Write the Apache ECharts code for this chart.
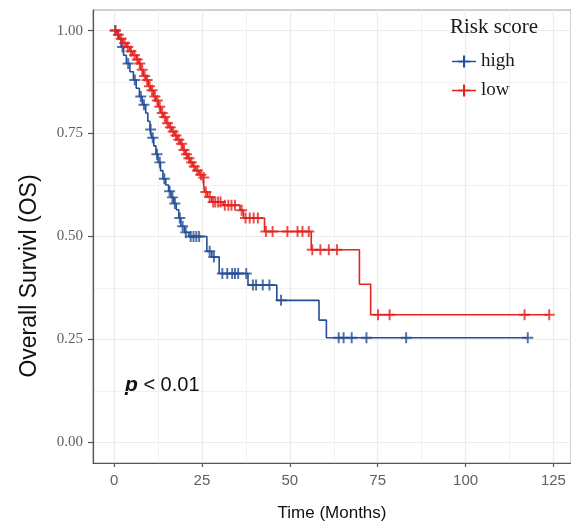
<!DOCTYPE html>
<html>
<head>
<meta charset="utf-8">
<script src="https://cdn.jsdelivr.net/npm/echarts@6/dist/echarts.min.js"></script>
<style>html,body{margin:0;padding:0;background:#fff;overflow:hidden;width:571px;height:527px;}#c{position:absolute;left:0;top:0;width:571px;height:527px;}</style>
</head>
<body>
<div id="c"></div>
<script>
// ---- data ----
const xTicks = [0, 25, 50, 75, 100, 125];
const xMinorTicks = [12.5, 37.5, 62.5, 87.5, 112.5];
const yTicks = [0, 0.25, 0.5, 0.75, 1];
const yMinorTicks = [0.125, 0.375, 0.625, 0.875];

// high risk: event times (months) and survival after each event
const highTime = [0, 1.2, 2.0, 2.7, 3.5, 4.5, 5.5, 6.3, 7.2, 8.0, 9.0, 9.6, 10.2, 10.7, 11.3, 11.9, 12.5, 13.2, 13.9, 14.7, 15.5, 16.2, 17.0, 17.7, 18.4, 19.0, 20.0, 21.3, 26.4, 27.8, 29.9, 38.1, 46.3, 58.3, 60.4];
const highSurv = [1, 0.98, 0.96, 0.94, 0.92, 0.90, 0.88, 0.86, 0.84, 0.82, 0.80, 0.78, 0.76, 0.74, 0.72, 0.70, 0.68, 0.66, 0.64, 0.625, 0.61, 0.595, 0.58, 0.565, 0.545, 0.525, 0.51, 0.50, 0.464, 0.45, 0.41, 0.382, 0.345, 0.297, 0.254];
const highCensor = [0.3, 2.4, 4.0, 5.9, 7.6, 8.5, 10.4, 11.0, 12.2, 13.0, 14.3, 15.8, 16.6, 17.3, 18.7, 19.5, 20.4, 21.8, 22.6, 23.4, 24.2, 27.2, 28.4, 30.8, 32.2, 33.6, 34.4, 35.3, 37.6, 39.5, 40.4, 42.3, 44.2, 47.5, 63.9, 65.3, 67.6, 71.8, 83.1, 117.7];

// low risk
const lowTime = [0, 0.8, 1.6, 2.5, 3.5, 4.4, 5.3, 6.3, 7.0, 7.6, 8.3, 9.1, 9.7, 10.4, 11.2, 11.9, 12.6, 13.3, 14.0, 14.8, 15.6, 16.4, 17.2, 18.0, 18.8, 19.5, 20.2, 20.9, 21.6, 22.4, 23.2, 24.2, 25.3, 25.7, 26.6, 27.8, 31.0, 35.8, 36.8, 42.8, 56.1, 69.8, 73.0];
const lowSurv = [1, 0.99, 0.98, 0.97, 0.96, 0.95, 0.94, 0.93, 0.92, 0.905, 0.89, 0.88, 0.865, 0.855, 0.84, 0.83, 0.815, 0.80, 0.79, 0.775, 0.765, 0.755, 0.745, 0.735, 0.725, 0.71, 0.70, 0.69, 0.68, 0.67, 0.66, 0.65, 0.643, 0.608, 0.596, 0.584, 0.576, 0.564, 0.545, 0.512, 0.468, 0.384, 0.31];
const lowCensor = [0.4, 1.2, 2.0, 3.0, 3.9, 4.8, 5.8, 6.6, 7.3, 8.0, 8.7, 9.4, 10.1, 10.8, 11.6, 12.3, 13.0, 13.7, 14.4, 15.2, 16.0, 16.8, 17.6, 18.4, 19.2, 19.9, 20.6, 21.3, 22.0, 22.8, 23.7, 24.7, 25.5, 26.1, 27.2, 28.2, 28.8, 29.6, 30.3, 31.5, 32.5, 33.4, 34.4, 36.3, 37.4, 38.6, 39.7, 40.9, 43.2, 45.1, 49.3, 52.2, 53.6, 55.4, 56.4, 58.7, 61.1, 63.4, 75.1, 78.4, 116.8, 123.8];

const groups = ['high', 'low'];
const colors = { high: '#244f96', low: '#e5221e' };

// ---- helpers ----
function survAt(times, surv, t) {
  let s = surv[0];
  for (let i = 0; i < times.length; i++) { if (times[i] <= t) s = surv[i]; }
  return s;
}
function stepData(times, surv, censor) {
  const d = times.map((t, i) => [t, surv[i]]);
  const last = censor[censor.length - 1];
  if (last > times[times.length - 1]) d.push([last, surv[surv.length - 1]]);
  return d;
}
function censorData(times, surv, censor) {
  return censor.map(t => [t, survAt(times, surv, t)]);
}

const plusPath = 'path://M4.1,0h1.8v4.1h4.1v1.8h-4.1v4.1h-1.8v-4.1h-4.1v-1.8h4.1z';
const legendIcon = 'path://M0,5.3h24v1.4h-24z M11,0h2v12h-2z M6,5h12v2h-12z';

const chart = echarts.init(document.getElementById('c'), null, { renderer: 'canvas', width: 571, height: 527 });

const gridColor = '#ebebeb';
const option = {
  animation: false,
  backgroundColor: '#ffffff',
  grid: { left: 93, right: -6, top: 10, bottom: 57, show: true, borderColor: '#a0a0a0', borderWidth: 1, backgroundColor: 'transparent' },
  title: {
    text: 'Risk score', left: 450, top: 17, padding: 0,
    textStyle: { fontFamily: 'Liberation Serif, serif', fontSize: 21, fontWeight: 'normal', color: '#1a1a1a' }
  },
  legend: {
    orient: 'vertical', left: 452, top: 52, padding: 0,
    itemWidth: 24, itemHeight: 12, itemGap: 10,
    textStyle: { fontFamily: 'Liberation Serif, serif', fontSize: 19, color: '#1a1a1a' },
    data: groups.map(g => ({ name: g, icon: legendIcon }))
  },
  xAxis: [
    {
      type: 'value', min: -6.0, max: 130.0,
      name: 'Time (Months)', nameLocation: 'middle', nameGap: 42,
      nameTextStyle: { fontFamily: 'Liberation Sans, Arial, sans-serif', fontSize: 17, color: '#111' },
      axisLine: { show: true, onZero: false, lineStyle: { color: '#555', width: 1.2 } },
      axisTick: { show: true, length: 4, customValues: xTicks, lineStyle: { color: '#555', width: 1.2 } },
      axisLabel: { customValues: xTicks, margin: 10, fontFamily: 'Liberation Sans, Arial, sans-serif', fontSize: 15, color: '#606060' },
      splitLine: { show: true, lineStyle: { color: gridColor, width: 1.2 } }
    },
    {
      type: 'value', min: -6.0, max: 130.0, position: 'bottom',
      axisLine: { show: false }, axisTick: { show: false, customValues: xMinorTicks },
      axisLabel: { show: false, customValues: xMinorTicks },
      splitLine: { show: true, lineStyle: { color: '#f1f1f1', width: 1 } }
    }
  ],
  yAxis: [
    {
      type: 'value', min: -0.05, max: 1.05,
      axisLine: { show: true, onZero: false, lineStyle: { color: '#555', width: 1.2 } },
      axisTick: { show: true, length: 5, customValues: yTicks, lineStyle: { color: '#555', width: 1.2 } },
      axisLabel: { customValues: yTicks, margin: 10, fontFamily: 'Liberation Serif, serif', fontSize: 15, color: '#606060',
        formatter: v => v.toFixed(2) },
      splitLine: { show: true, lineStyle: { color: gridColor, width: 1.2 } }
    },
    {
      type: 'value', min: -0.05, max: 1.05, position: 'left',
      axisLine: { show: false }, axisTick: { show: false, customValues: yMinorTicks },
      axisLabel: { show: false, customValues: yMinorTicks },
      splitLine: { show: true, lineStyle: { color: '#f1f1f1', width: 1 } }
    }
  ],
  graphic: [
    {
      type: 'text', x: 30, y: 276, rotation: Math.PI / 2,
      style: { text: 'Overall Survivl (OS)', font: '23px "Liberation Sans", Arial, sans-serif', fill: '#111', align: 'center', verticalAlign: 'middle' }
    },
    {
      type: 'text', x: 125, y: 385,
      style: {
        text: '{b|p} < 0.01',
        rich: { b: { fontWeight: 'bold', fontStyle: 'italic', fontFamily: 'Liberation Sans, Arial, sans-serif', fontSize: 21, fill: '#111' } },
        font: '20px "Liberation Sans", Arial, sans-serif', fill: '#111', verticalAlign: 'middle'
      }
    }
  ],
  series: [
    {
      name: 'high', type: 'line', step: 'end', showSymbol: false, xAxisIndex: 0, yAxisIndex: 0,
      data: stepData(highTime, highSurv, highCensor),
      lineStyle: { color: colors.high, width: 1.6 }, itemStyle: { color: colors.high }, z: 3
    },
    {
      name: 'high', type: 'scatter', xAxisIndex: 0, yAxisIndex: 0,
      data: censorData(highTime, highSurv, highCensor),
      symbol: plusPath, symbolSize: 11, itemStyle: { color: colors.high }, z: 3
    },
    {
      name: 'low', type: 'line', step: 'end', showSymbol: false, xAxisIndex: 0, yAxisIndex: 0,
      data: stepData(lowTime, lowSurv, lowCensor),
      lineStyle: { color: colors.low, width: 1.6 }, itemStyle: { color: colors.low }, z: 4
    },
    {
      name: 'low', type: 'scatter', xAxisIndex: 0, yAxisIndex: 0,
      data: censorData(lowTime, lowSurv, lowCensor),
      symbol: plusPath, symbolSize: 11, itemStyle: { color: colors.low }, z: 4
    }
  ]
};
chart.setOption(option);
</script>
</body>
</html>
